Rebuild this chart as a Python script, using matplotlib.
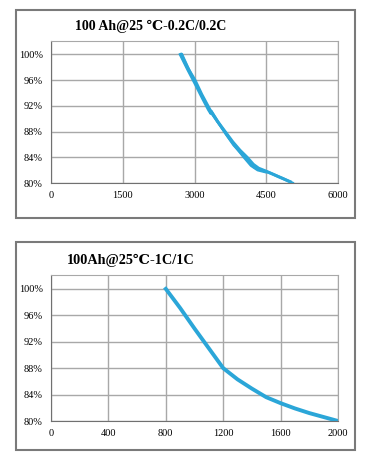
import matplotlib
matplotlib.use('Agg')
import matplotlib.pyplot as plt
from matplotlib.patches import Rectangle
from matplotlib.ticker import PercentFormatter

# 100Ah @25C 0.2C/0.2C, several cells overlapping
cycles_a1 = [2720, 2850, 3010, 3150, 3330, 3480, 3640, 3800, 3950, 4100, 4230, 4340, 4510, 4750, 5000]
capacity_a1 = [100.0, 98.0, 96.0, 93.8, 91.3, 89.6, 88.0, 86.4, 85.1, 84.0, 82.9, 82.3, 81.8, 81.0, 80.2]
cycles_a2 = [2700, 2860, 3000, 3170, 3290, 3340, 3350, 3500, 3660, 3820, 3980, 4150, 4260, 4400, 4600, 4820, 5050]
capacity_a2 = [100.0, 97.6, 95.6, 93.1, 91.4, 90.8, 91.2, 89.4, 87.6, 85.9, 84.6, 83.3, 82.4, 82.0, 81.5, 80.8, 80.0]
cycles_a3 = [2740, 2900, 3060, 3220, 3380, 3540, 3700, 3860, 4020, 4180, 4320, 4480]
capacity_a3 = [100.0, 97.4, 94.9, 92.6, 90.6, 88.9, 87.2, 85.6, 84.1, 82.7, 82.0, 81.7]

# 100Ah @25C 1C/1C
cycles_b = [800, 900, 1000, 1100, 1200, 1300, 1400, 1500, 1600, 1700, 1800, 1900, 2000]
capacity_b = [100.0, 97.1, 94.0, 91.0, 88.0, 86.3, 84.9, 83.6, 82.7, 81.9, 81.2, 80.6, 80.0]

titles = ['100 Ah@25 ℃-0.2C/0.2C', '100Ah@25℃-1C/1C']
line_color = '#2ba6d8'
grid_color = '#a8a8a8'

fig = plt.figure(figsize=(3.72, 4.61), dpi=100)
W, H = 372, 461


def fig_rect(x0, y0, x1, y1):
    # pixel box (top-left origin) -> figure fraction
    return [x0 / W, 1 - y1 / H, (x1 - x0) / W, (y1 - y0) / H]


for box in [(16, 10, 355, 218), (16, 242, 355, 450)]:
    r = fig_rect(*box)
    fig.patches.append(Rectangle((r[0], r[1]), r[2], r[3], transform=fig.transFigure,
                                 fill=False, edgecolor='#7a7a7a', linewidth=1.5))

ax1 = fig.add_axes(fig_rect(51, 41, 338, 183))
ax2 = fig.add_axes(fig_rect(51, 275, 338, 421))

ax1.plot(cycles_a1, capacity_a1, color=line_color, lw=2.2)
ax1.plot(cycles_a2, capacity_a2, color=line_color, lw=2.0)
ax1.plot(cycles_a3, capacity_a3, color=line_color, lw=1.8)
ax1.set_xlim(0, 6000)
ax1.set_xticks([0, 1500, 3000, 4500, 6000])

ax2.plot(cycles_b, capacity_b, color=line_color, lw=2.8)
ax2.set_xlim(0, 2000)
ax2.set_xticks([0, 400, 800, 1200, 1600, 2000])

serif = ['Liberation Serif', 'DejaVu Serif']
for ax in (ax1, ax2):
    ax.set_ylim(80, 102.1)
    ax.set_yticks([80, 84, 88, 92, 96, 100])
    ax.yaxis.set_major_formatter(PercentFormatter(decimals=0))
    ax.grid(True, color=grid_color, lw=1.0)
    ax.set_axisbelow(True)
    ax.tick_params(length=0, labelsize=7.5, pad=6)
    for lab in ax.get_xticklabels() + ax.get_yticklabels():
        lab.set_family(serif)
    for side in ['top', 'right']:
        ax.spines[side].set_color(grid_color)
    for side in ['left', 'bottom']:
        ax.spines[side].set_color('#707070')

fig.text(75 / W, 1 - 26 / H, titles[0], family=serif, fontsize=10, fontweight='bold', va='center')
fig.text(67 / W, 1 - 260 / H, titles[1], family=serif, fontsize=10.3, fontweight='bold', va='center')

fig.savefig('out.png', dpi=100)
